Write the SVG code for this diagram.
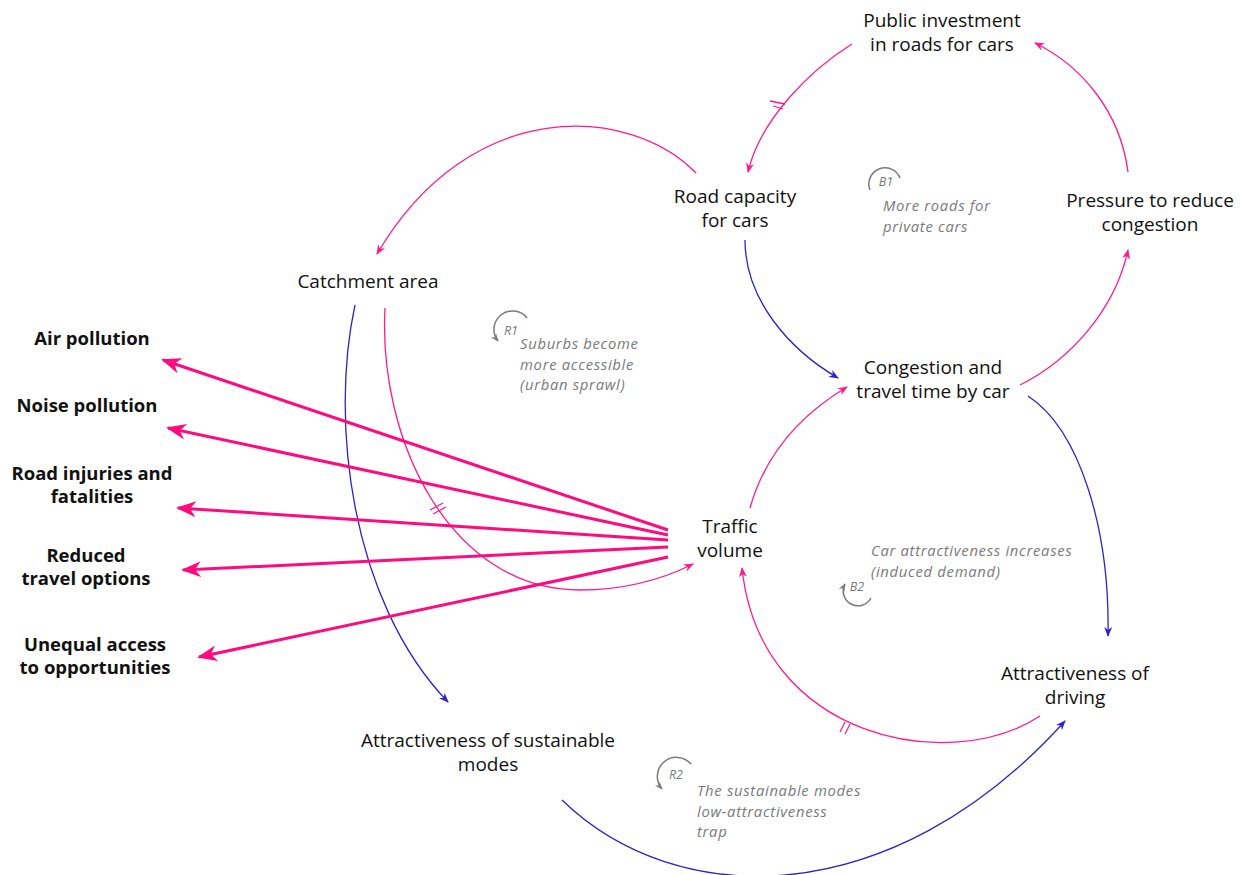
<svg xmlns="http://www.w3.org/2000/svg" width="1241" height="875" viewBox="0 0 1241 875">
<style>
.n{font-family:"Open Sans","Noto Sans","Liberation Sans",sans-serif;font-size:19px;fill:#111;text-anchor:middle}
.b{font-family:"Open Sans","Noto Sans","Liberation Sans",sans-serif;font-size:18.5px;font-weight:bold;fill:#111;text-anchor:middle}
.a{font-family:"Open Sans","Noto Sans","Liberation Sans",sans-serif;font-size:14.8px;letter-spacing:0.7px;font-style:italic;fill:#7a7a7a}
.l{font-family:"Open Sans","Noto Sans","Liberation Sans",sans-serif;font-size:12.5px;font-style:italic;fill:#7a7a7a;text-anchor:middle}
.p{fill:none;stroke:#FF1A8C;stroke-width:1.3}
.u{fill:none;stroke:#2E22D0;stroke-width:1.3}
.t{fill:none;stroke:#FF0A7F;stroke-width:3}
.d{stroke:#FF1A8C;stroke-width:1.3}
.g{fill:none;stroke:#7a7a7a;stroke-width:1.5}
</style>
<defs>
<marker id="ap" viewBox="0 0 10 10" refX="9" refY="5" markerWidth="10" markerHeight="10" markerUnits="userSpaceOnUse" orient="auto"><path d="M0,1 L10,5 L0,9 L3,5 z" fill="#FF1A8C"/></marker>
<marker id="au" viewBox="0 0 10 10" refX="9" refY="5" markerWidth="10" markerHeight="10" markerUnits="userSpaceOnUse" orient="auto"><path d="M0,1 L10,5 L0,9 L3,5 z" fill="#2E22D0"/></marker>
<marker id="at" viewBox="0 0 10 10" refX="9" refY="5" markerWidth="20" markerHeight="20" markerUnits="userSpaceOnUse" orient="auto"><path d="M0,1 L10,5 L0,9 L3,5 z" fill="#FF0A7F"/></marker>
<marker id="ag" viewBox="0 0 10 10" refX="9" refY="5" markerWidth="8" markerHeight="8" markerUnits="userSpaceOnUse" orient="auto"><path d="M0,1 L10,5 L0,9 L3,5 z" fill="#7a7a7a"/></marker>
</defs>
<rect width="1241" height="875" fill="#fff"/>

<g id="connectors">
<path class="p" d="M852,44 C810,70 760,120 748,172" marker-end="url(#ap)"/>
<line class="d" x1="770" y1="101" x2="785" y2="104"/>
<line class="d" x1="773" y1="106" x2="783" y2="109"/>
<path class="p" d="M1128,172 C1120,110 1080,65 1035,43" marker-end="url(#ap)"/>
<path class="p" d="M696,173 C630,105 470,95 377,254" marker-end="url(#ap)"/>
<path class="u" d="M745,240 C745,300 790,350 838,378" marker-end="url(#au)"/>
<path class="p" d="M1020,385 C1070,360 1115,310 1128,250" marker-end="url(#ap)"/>
<path class="u" d="M1028,396 C1080,430 1110,530 1108,636" marker-end="url(#au)"/>
<path class="p" d="M750,508 C765,455 800,415 847,387" marker-end="url(#ap)"/>
<path class="p" d="M1040,716 C950,775 760,740 742,568" marker-end="url(#ap)"/>
<line class="d" x1="840" y1="732" x2="845" y2="722"/>
<line class="d" x1="845" y1="734" x2="850" y2="724"/>
<path class="p" d="M385,308 C378,440 450,590 580,590 C630,590 665,578 693,564" marker-end="url(#ap)"/>
<line class="d" x1="430" y1="510" x2="443" y2="503"/>
<line class="d" x1="433" y1="514" x2="446" y2="507"/>
<path class="u" d="M355,305 C330,420 350,600 448,702" marker-end="url(#au)"/>
<path class="u" d="M562,800 C675,910 890,915 1065,721" marker-end="url(#au)"/>
<line class="t" x1="668" y1="530" x2="163" y2="360" marker-end="url(#at)"/>
<line class="t" x1="668" y1="535" x2="168" y2="428" marker-end="url(#at)"/>
<line class="t" x1="668" y1="540" x2="178" y2="508" marker-end="url(#at)"/>
<line class="t" x1="668" y1="547" x2="183" y2="570" marker-end="url(#at)"/>
<line class="t" x1="668" y1="557" x2="199" y2="657" marker-end="url(#at)"/>
</g>

<g id="public-investment"><text class="n" x="942" y="27">Public investment</text><text class="n" x="942" y="51">in roads for cars</text></g>
<g id="road-capacity"><text class="n" x="735" y="203">Road capacity</text><text class="n" x="735" y="227">for cars</text></g>
<g id="pressure"><text class="n" x="1150" y="207">Pressure to reduce</text><text class="n" x="1150" y="231">congestion</text></g>
<g id="catchment"><text class="n" x="368" y="288">Catchment area</text></g>
<g id="congestion"><text class="n" x="933" y="374">Congestion and</text><text class="n" x="933" y="398">travel time by car</text></g>
<g id="traffic"><text class="n" x="730" y="533">Traffic</text><text class="n" x="730" y="557">volume</text></g>
<g id="attr-driving"><text class="n" x="1075" y="680">Attractiveness of</text><text class="n" x="1075" y="704">driving</text></g>
<g id="attr-sustainable"><text class="n" x="488" y="747">Attractiveness of sustainable</text><text class="n" x="488" y="771">modes</text></g>

<g id="air"><text class="b" x="92" y="345">Air pollution</text></g>
<g id="noise"><text class="b" x="87" y="412">Noise pollution</text></g>
<g id="injuries"><text class="b" x="92" y="480">Road injuries and</text><text class="b" x="92" y="503">fatalities</text></g>
<g id="reduced"><text class="b" x="86" y="562">Reduced</text><text class="b" x="86" y="585">travel options</text></g>
<g id="unequal"><text class="b" x="95" y="651">Unequal access</text><text class="b" x="95" y="674">to opportunities</text></g>

<g id="loop-b1">
<path class="g" d="M870,190 A13,13 0 1 1 900,178"/>
<text class="l" x="886" y="186">B1</text>
<text class="a" x="883" y="211">More roads for</text><text class="a" x="883" y="232">private cars</text>
</g>
<g id="loop-r1">
<path class="g" d="M527,318 A14,14 0 1 0 498,341" marker-end="url(#ag)"/>
<text class="l" x="511" y="335">R1</text>
<text class="a" x="520" y="349">Suburbs become</text><text class="a" x="520" y="369.5">more accessible</text><text class="a" x="520" y="390">(urban sprawl)</text>
</g>
<g id="loop-b2">
<path class="g" d="M871,598 A14,14 0 1 1 845,584" marker-end="url(#ag)"/>
<text class="l" x="857" y="591">B2</text>
<text class="a" x="871" y="556">Car attractiveness increases</text><text class="a" x="871" y="576.5">(induced demand)</text>
</g>
<g id="loop-r2">
<path class="g" d="M691,764 A15,15 0 1 0 662,789" marker-end="url(#ag)"/>
<text class="l" x="676" y="779">R2</text>
<text class="a" x="697" y="796">The sustainable modes</text><text class="a" x="697" y="816.5">low-attractiveness</text><text class="a" x="697" y="837">trap</text>
</g>
</svg>
